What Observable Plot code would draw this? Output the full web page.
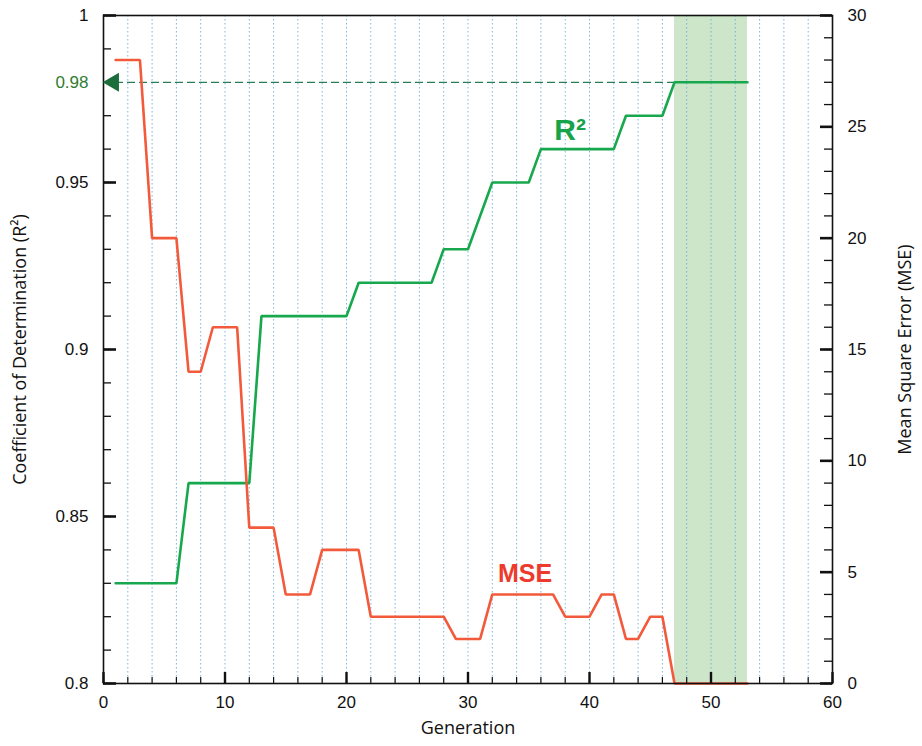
<!DOCTYPE html>
<html>
<head>
<meta charset="utf-8">
<script src="https://cdn.jsdelivr.net/npm/d3@7"></script>
<script src="https://cdn.jsdelivr.net/npm/@observablehq/plot@0.6"></script>
<style>
  html, body { margin: 0; padding: 0; background: #fff; }
</style>
</head>
<body>
<div id="chart"></div>
<script>
// ---- Data ----
const r2Gen = [1, 6, 7, 12, 13, 20, 21, 27, 28, 30, 32, 35, 36, 42, 43, 46, 47, 53];
const r2Val = [0.83, 0.83, 0.86, 0.86, 0.91, 0.91, 0.92, 0.92, 0.93, 0.93, 0.95, 0.95, 0.96, 0.96, 0.97, 0.97, 0.98, 0.98];

const mseGen = [1, 3, 4, 6, 7, 8, 9, 11, 12, 14, 15, 17, 18, 21, 22, 28, 29, 31, 32, 37, 38, 40, 41, 42, 43, 44, 45, 46, 47, 53];
const mseVal = [28, 28, 20, 20, 14, 14, 16, 16, 7, 7, 4, 4, 6, 6, 3, 3, 2, 2, 4, 4, 3, 3, 4, 4, 2, 2, 3, 3, 0, 0];

const bestBand = [{start: 47, end: 53}];
const targetR2 = [0.98];
const targetLabel = ["0.98"];

const xMajorTicks = [0, 10, 20, 30, 40, 50, 60];
const xMinorTicks = d3.range(0, 61, 2);
const gridGens = d3.range(2, 60, 2);

const r2MajorTicks = [0.8, 0.85, 0.9, 0.95, 1];
const r2TickLabels = ["0.8", "0.85", "0.9", "0.95", "1"];
const r2MinorTicks = d3.range(0, 21).map(i => 0.8 + i * 0.01);

const mseMajorTicks = [0, 5, 10, 15, 20, 25, 30];
const mseMinorTicks = d3.range(0, 31);

// ---- Layout ----
const W = 922, H = 746, mL = 103, mR = 90, mT = 15, mB = 63;
const frameW = W - mL - mR, frameH = H - mT - mB;

// ---- Scale mapping of MSE (0..30) onto the R² scale (0.8..1) ----
const xMin = 0, xMax = 60;
const mseMax = 30, yMin = 0.8, yMax = 1;
const mseToY = m => yMin + (m / mseMax) * (yMax - yMin);
const yToMse = y => Math.round((y - yMin) / (yMax - yMin) * mseMax);
// pixel lengths of inward tick marks expressed in scale units
const gPerPx = (xMax - xMin) / frameW;
const yPerPx = (yMax - yMin) / frameH;

const r2Data = r2Gen.map((g, i) => ({g, v: r2Val[i]}));
const mseData = mseGen.map((g, i) => ({g, v: mseToY(mseVal[i])}));

const tickFont = "'Liberation Sans', Arial, sans-serif";
const titleFont = "'Open Sans', 'DejaVu Sans', sans-serif";
const ink = "#111";

const leftTicks = (ticks, len, sw) => Plot.ruleY(ticks, {y: d => d, x1: xMin, x2: xMin + len * gPerPx, stroke: ink, strokeWidth: sw});
const rightTicks = (ticks, len, sw) => Plot.ruleY(ticks, {y: d => d, x1: xMax - len * gPerPx, x2: xMax, stroke: ink, strokeWidth: sw});
const bottomTicks = (ticks, len, sw) => Plot.ruleX(ticks, {x: d => d, y1: yMin, y2: yMin + len * yPerPx, stroke: ink, strokeWidth: sw});

const chart = Plot.plot({
  width: W,
  height: H,
  marginLeft: mL,
  marginRight: mR,
  marginTop: mT,
  marginBottom: mB,
  style: {fontFamily: tickFont, fontSize: "17px", color: ink, background: "#fff"},
  x: {domain: [xMin, xMax]},
  y: {domain: [yMin, yMax]},
  marks: [
    Plot.rect(bestBand, {x1: "start", x2: "end", y1: yMin, y2: yMax, fill: "#cde5c9"}),
    Plot.ruleX(gridGens, {stroke: "#6aaed8", strokeWidth: 1, strokeDasharray: "1.5,2.5", strokeOpacity: 0.9}),
    Plot.ruleY(targetR2, {x1: 0, x2: 53, stroke: "#2a7d55", strokeWidth: 1.2, strokeDasharray: "8,4"}),
    Plot.line(r2Data, {x: "g", y: "v", stroke: "#17a84e", strokeWidth: 2.6, strokeLinejoin: "miter"}),
    Plot.line(mseData, {x: "g", y: "v", stroke: "#f25a3b", strokeWidth: 2.6, strokeLinejoin: "miter"}),
    Plot.text(["R²"], {x: 38.4, y: 0.9656, text: d => d, fill: "#17a34a", fontSize: 30, fontWeight: "bold", textAnchor: "middle", fontFamily: tickFont}),
    Plot.text(["MSE"], {x: 34.7, y: mseToY(4.9), text: d => d, fill: "#ee3a2c", fontSize: 25, fontWeight: "bold", textAnchor: "middle", fontFamily: tickFont}),
    Plot.text(targetLabel, {x: 0, y: targetR2[0], text: d => d, dx: -15, textAnchor: "end", fill: "#2f7d32", fontSize: 17}),
    Plot.frame({stroke: ink, strokeWidth: 1.6}),
    // inward ticks
    bottomTicks(xMinorTicks, 6, 1.2),
    bottomTicks(xMajorTicks, 11, 2.4),
    leftTicks(r2MinorTicks.filter(t => Math.abs(t - targetR2[0]) > 1e-9), 8, 1.3),
    leftTicks(r2MajorTicks, 13, 2.6),
    rightTicks(mseMinorTicks.map(mseToY), 8, 1.3),
    rightTicks(mseMajorTicks.map(mseToY), 12, 2.6),
    Plot.dot(targetR2, {x: 0, y: d => d, symbol: "triangle", rotate: -90, r: 7, fill: "#1b6e3c", stroke: "none", dx: 10}),
    // tick labels
    Plot.axisX({anchor: "bottom", ticks: xMajorTicks, tickSize: 0, tickPadding: 12, label: null, tickFormat: d => String(d)}),
    Plot.axisY({anchor: "left", ticks: r2MajorTicks, tickSize: 0, tickPadding: 15, label: null, tickFormat: d => r2TickLabels[r2MajorTicks.indexOf(d)]}),
    Plot.axisY({anchor: "right", ticks: mseMajorTicks.map(mseToY), tickSize: 0, tickPadding: 15, label: null, tickFormat: d => String(yToMse(d))}),
    // axis titles
    Plot.text(["Generation"], {frameAnchor: "bottom", dy: 50, textAnchor: "middle", text: d => d, fontFamily: titleFont, fontSize: 18, fill: ink}),
    Plot.text(["Coefficient of Determination (R²)"], {frameAnchor: "left", dx: -83, rotate: -90, textAnchor: "middle", text: d => d, fontFamily: titleFont, fontSize: 18, fill: ink}),
    Plot.text(["Mean Square Error (MSE)"], {frameAnchor: "right", dx: 73, rotate: -90, textAnchor: "middle", text: d => d, fontFamily: titleFont, fontSize: 18, fill: ink})
  ]
});
document.getElementById("chart").appendChild(chart);
</script>
</body>
</html>
